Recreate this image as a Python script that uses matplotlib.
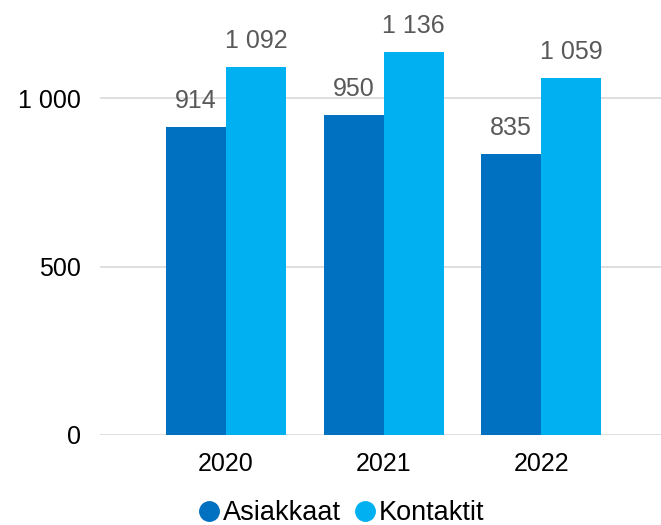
import numpy as np
import matplotlib.pyplot as plt
from matplotlib.lines import Line2D

# data
years = ["2020", "2021", "2022"]
asiakkaat = [914, 950, 835]
kontaktit = [1092, 1136, 1059]

DARK = "#0070C0"
LIGHT = "#00B0F0"

plt.rcParams['font.family'] = ['Liberation Sans', 'DejaVu Sans']
plt.rcParams['font.size'] = 18


def fmt(v):
    return f"{v:,}".replace(",", " ")


fig = plt.figure(figsize=(6.61, 5.25), dpi=100)
ax = fig.add_axes([100 / 661, 90 / 525, 561 / 661, 432 / 525])

x = np.arange(len(years))
w = 0.381
b1 = ax.bar(x - w / 2, asiakkaat, w, color=DARK, zorder=3)
b2 = ax.bar(x + w / 2, kontaktit, w, color=LIGHT, zorder=3)

for bars, vals in [(b1, asiakkaat), (b2, kontaktit)]:
    for r, v in zip(bars, vals):
        ax.annotate(fmt(v), (r.get_x() + r.get_width() / 2, v),
                    xytext=(0, 10), textcoords="offset points",
                    ha="center", va="bottom", color="#595959", fontsize=18)

ax.set_xlim(-0.8, 2.76)
ax.set_ylim(0, 1282)
ax.set_yticks([0, 500, 1000])
ax.set_yticklabels([fmt(t) for t in [0, 500, 1000]])
ax.set_xticks(x)
ax.set_xticklabels(years)
ax.yaxis.grid(True, color="#D9D9D9", linewidth=1.2, zorder=0)
ax.tick_params(length=0, colors="black")
ax.tick_params(axis="x", pad=12)
ax.tick_params(axis="y", pad=14)
for s in ax.spines.values():
    s.set_visible(False)

handles = [Line2D([], [], marker="o", linestyle="", markersize=14, color=DARK),
           Line2D([], [], marker="o", linestyle="", markersize=14, color=LIGHT)]
fig.legend(handles, ["Asiakkaat", "Kontaktit"], loc="center",
           bbox_to_anchor=(340 / 661, 1 - 513 / 525), ncol=2, frameon=False,
           handletextpad=0.0, columnspacing=0.4, handlelength=1.0, fontsize=19.5)

fig.savefig("out.png", dpi=100)
